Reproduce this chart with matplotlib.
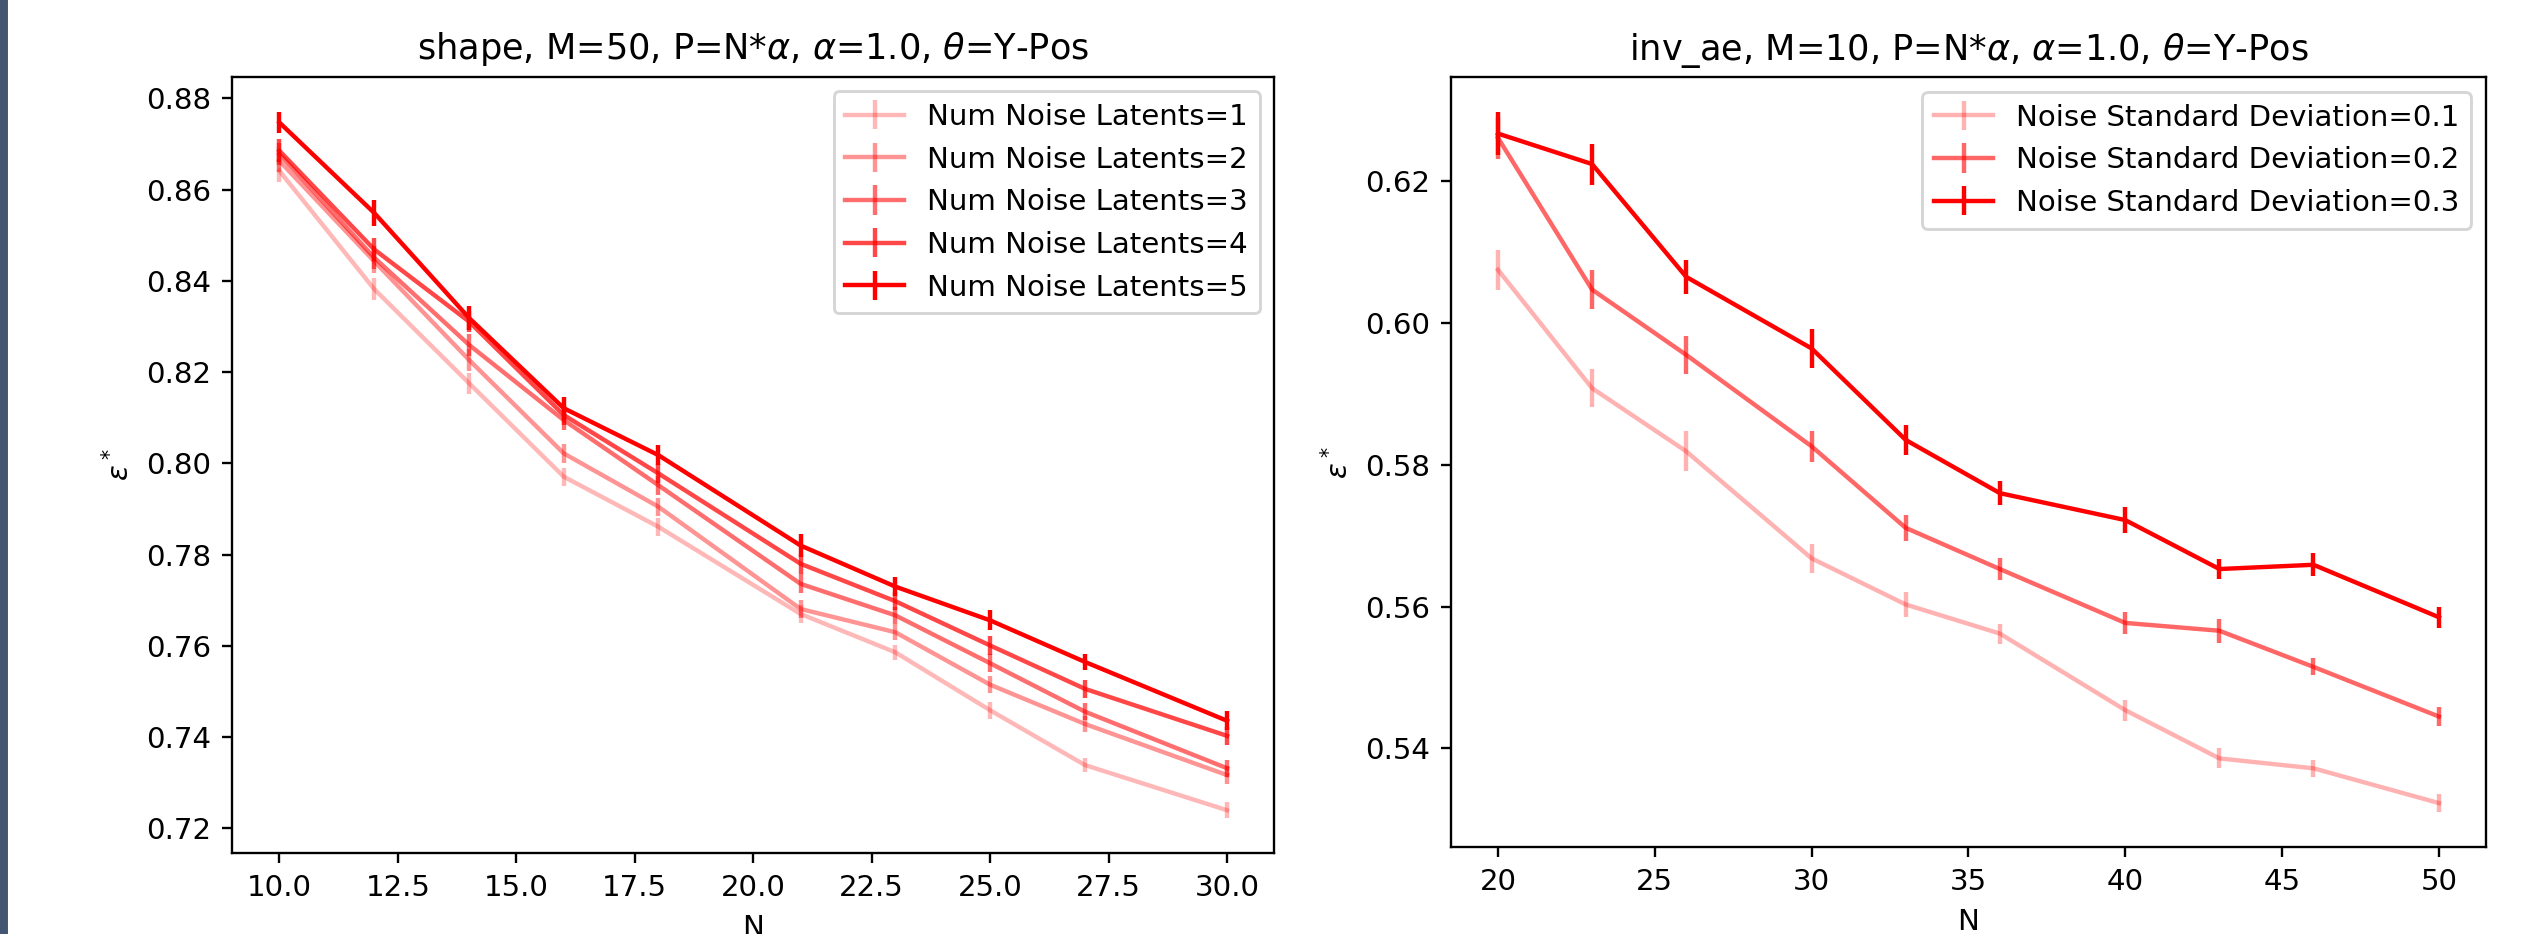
import numpy as np
import matplotlib
matplotlib.use('Agg')
import matplotlib.pyplot as plt
from matplotlib.patches import Rectangle

# left panel: shape, varying number of noise latents
n_left = [10, 12, 14, 16, 18, 21, 23, 25, 27, 30]
latents = [1, 2, 3, 4, 5]
eps_lat1 = [0.8641, 0.8382, 0.8176, 0.7971, 0.7861, 0.7670, 0.7586, 0.7459, 0.7339, 0.7240]
eps_lat2 = [0.8663, 0.8443, 0.8227, 0.8022, 0.7905, 0.7681, 0.7630, 0.7515, 0.7429, 0.7317]
eps_lat3 = [0.8678, 0.8451, 0.8260, 0.8095, 0.7952, 0.7736, 0.7667, 0.7562, 0.7456, 0.7332]
eps_lat4 = [0.8685, 0.8469, 0.8311, 0.8106, 0.7978, 0.7780, 0.7698, 0.7601, 0.7506, 0.7403]
eps_lat5 = [0.8747, 0.8549, 0.8319, 0.8121, 0.8018, 0.7820, 0.7730, 0.7656, 0.7565, 0.7436]
err_lat1 = [0.0025, 0.0024, 0.0023, 0.0020, 0.0019, 0.0019, 0.0016, 0.0019, 0.0016, 0.0017]
err_lat2 = [0.0025, 0.0025, 0.0024, 0.0021, 0.0020, 0.0020, 0.0018, 0.0019, 0.0018, 0.0019]
err_lat3 = [0.0025, 0.0025, 0.0024, 0.0022, 0.0021, 0.0021, 0.0019, 0.0020, 0.0018, 0.0019]
err_lat4 = [0.0025, 0.0025, 0.0024, 0.0022, 0.0021, 0.0022, 0.0020, 0.0020, 0.0019, 0.0020]
err_lat5 = [0.0023, 0.0029, 0.0027, 0.0025, 0.0022, 0.0026, 0.0020, 0.0022, 0.0018, 0.0021]

# right panel: inv_ae, varying noise std
n_right = [20, 23, 26, 30, 33, 36, 40, 43, 46, 50]
noise_std = [0.1, 0.2, 0.3]
eps_std1 = [0.6075, 0.5908, 0.5819, 0.5668, 0.5603, 0.5562, 0.5454, 0.5386, 0.5372, 0.5323]
eps_std2 = [0.6261, 0.6047, 0.5955, 0.5826, 0.5711, 0.5653, 0.5577, 0.5566, 0.5515, 0.5445]
eps_std3 = [0.6267, 0.6224, 0.6065, 0.5964, 0.5835, 0.5760, 0.5722, 0.5653, 0.5659, 0.5585]
err_std1 = [0.0028, 0.0027, 0.0028, 0.0020, 0.0018, 0.0014, 0.0015, 0.0014, 0.0012, 0.0013]
err_std2 = [0.0030, 0.0027, 0.0027, 0.0022, 0.0018, 0.0016, 0.0015, 0.0017, 0.0012, 0.0013]
err_std3 = [0.0030, 0.0029, 0.0024, 0.0028, 0.0021, 0.0017, 0.0018, 0.0014, 0.0016, 0.0015]

DPI = 211
fig = plt.figure(figsize=(2545/DPI, 934/DPI), dpi=DPI)

# dark strip on the left edge of the screenshot
fig.patches.append(Rectangle((0, 0), 6/2545, 1, transform=fig.transFigure,
                             color='#435570', zorder=-1))

ax1 = fig.add_axes([0.09116, 0.08640, 0.40962, 0.83148])
ax2 = fig.add_axes([0.57010, 0.09283, 0.40672, 0.82441])

left_vals = [eps_lat1, eps_lat2, eps_lat3, eps_lat4, eps_lat5]
left_errs = [err_lat1, err_lat2, err_lat3, err_lat4, err_lat5]
alphas = [0.28, 0.42, 0.57, 0.72, 1.0]
for k, a in enumerate(alphas):
    ax1.errorbar(n_left, left_vals[k], yerr=left_errs[k], color='red', alpha=a,
                 label='Num Noise Latents=%d' % latents[k])
ax1.set_title(r'shape, M=50, P=N*$\alpha$, $\alpha$=1.0, $\theta$=Y-Pos')
ax1.set_xlabel('N')
ax1.set_ylabel(r'$\epsilon^*$')
ax1.legend(loc='upper right')

right_vals = [eps_std1, eps_std2, eps_std3]
right_errs = [err_std1, err_std2, err_std3]
alphas = [0.3, 0.6, 1.0]
for k, a in enumerate(alphas):
    ax2.errorbar(n_right, right_vals[k], yerr=right_errs[k], color='red', alpha=a,
                 label='Noise Standard Deviation=%.1f' % noise_std[k])
ax2.set_title(r'inv_ae, M=10, P=N*$\alpha$, $\alpha$=1.0, $\theta$=Y-Pos')
ax2.set_xlabel('N')
ax2.set_ylabel(r'$\epsilon^*$')
ax2.legend(loc='upper right')

fig.savefig('out.png', dpi=DPI)
